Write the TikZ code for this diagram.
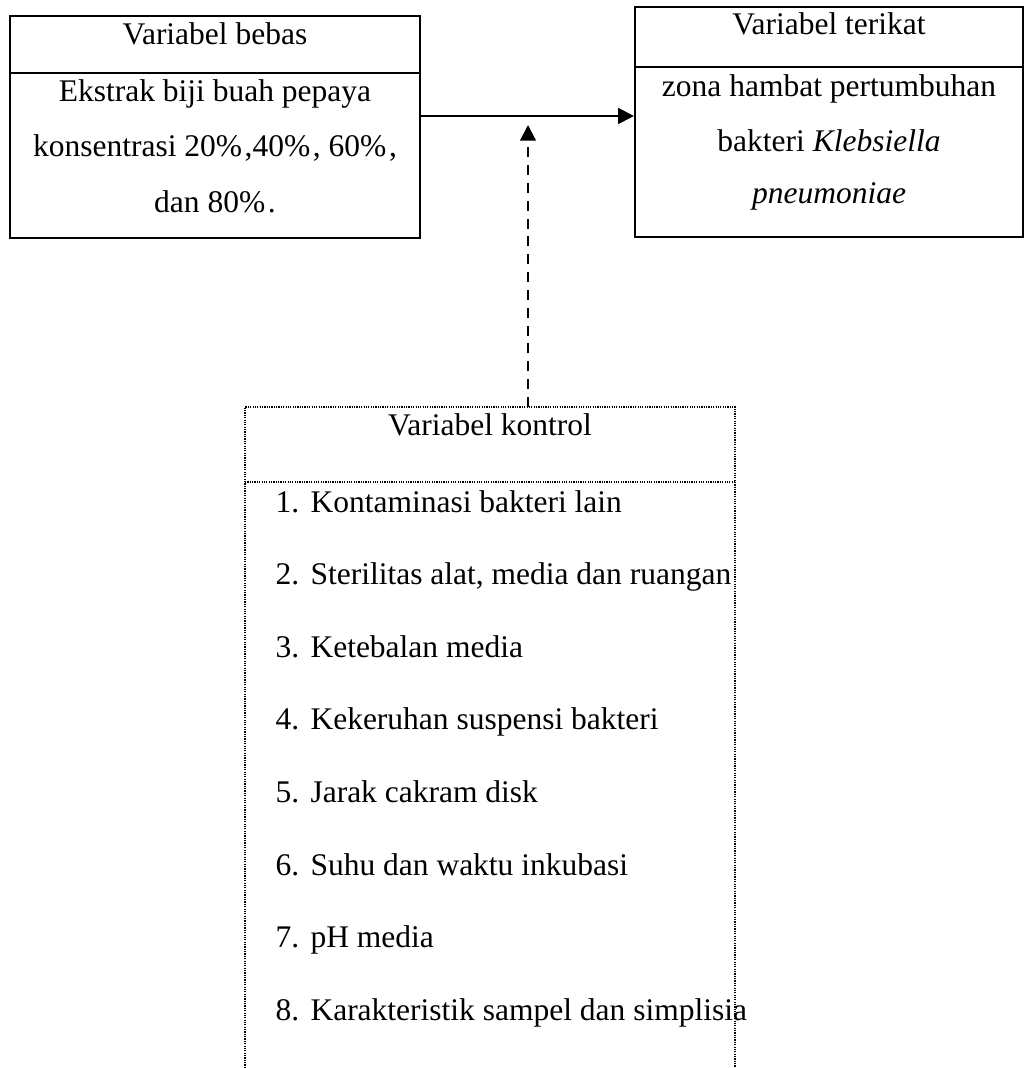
\documentclass[tikz,border=0pt]{standalone}
\usepackage{fontspec}
\setmainfont{Liberation Serif}
\usetikzlibrary{positioning,arrows.meta}

\newcommand\px{0.381pt}

\tikzset{
  box/.style={draw, line width=0.8pt, inner sep=0pt},
  dotbox/.style={draw, line width=0.5pt, dash pattern=on 0.45pt off 0.45pt},
  txt/.style={anchor=base, inner sep=0pt, font=\fontsize{12}{14}\selectfont},
  item/.style={txt, anchor=base west},
  arr/.style={line width=0.8pt, -{Triangle[length=6pt,width=6pt]}},
  dasharr/.style={arr, dash pattern=on 3.8pt off 3pt}
}

\begin{document}
\begin{tikzpicture}[x=\px, y=-\px]
    \useasboundingbox (0,0) rectangle (1025,1068);

    % variabel bebas
    \node[box, minimum width=410*\px, minimum height=222*\px] (kiri) at (215,127) {};
    \draw[line width=0.8pt] (kiri.west |- 0,73) -- (kiri.east |- 0,73);
    \node[txt] (bebas) at (215,45) {Variabel bebas};
    \node[txt] (bebas1) at (215,102) {Ekstrak biji buah pepaya};
    \node[txt] (bebas2) at (215,157) {konsentrasi 20\%\kern1pt,40\%\kern1pt, 60\%\kern1pt,};
    \node[txt] (bebas3) at (215,213) {dan 80\%\kern1pt.};

    % variabel terikat
    \node[box, minimum width=388*\px, minimum height=230*\px] (kanan) at (829,122) {};
    \draw[line width=0.8pt] (kanan.west |- 0,67) -- (kanan.east |- 0,67);
    \node[txt] (terikat) at (829,35) {Variabel terikat};
    \node[txt] (terikat1) at (829,97) {zona hambat pertumbuhan};
    \node[txt] (terikat2) at (829,152) {bakteri \textit{Klebsiella}};
    \node[txt] (terikat3) at (829,204) {\textit{pneumoniae}};

    % variabel kontrol (bottom left open)
    \draw[dotbox] (245,1068) -- (245,407) -- (735,407) -- (735,1068);
    \draw[dotbox] (245,482) -- (735,482);
    \node[txt] (kontrol) at (490,436) {Variabel kontrol};
    \foreach \t [count=\i] in {Kontaminasi bakteri lain,
        {Sterilitas alat, media dan ruangan}, Ketebalan media,
        Kekeruhan suspensi bakteri, Jarak cakram disk,
        Suhu dan waktu inkubasi, pH media,
        Karakteristik sampel dan simplisia}
    {
        \node[item] (n\i) at (275,{512+72.6*(\i-1)}) {\i.};
        \node[item] (k\i) at (310,{512+72.6*(\i-1)}) {\t};
    }

    % connectors
    \coordinate (mid) at (528,116);
    \coordinate (tip) at (528,125);
    \coordinate (atas) at (528,407);
    \draw[arr] (kiri.east |- mid) -- (kanan.west |- mid);
    \draw[dasharr] (atas) -- (tip);
\end{tikzpicture}
\end{document}
